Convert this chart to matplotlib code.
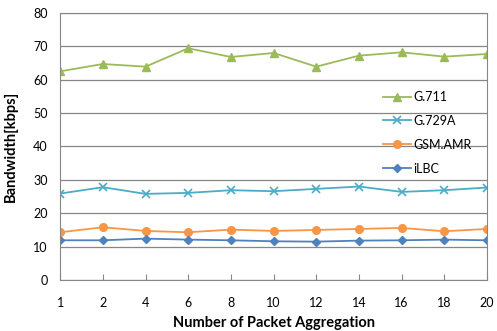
import numpy as np
import matplotlib.pyplot as plt

plt.rcParams['font.family'] = ['Lato', 'DejaVu Sans']

cats = ['1', '2', '4', '6', '8', '10', '12', '14', '16', '18', '20']
g711 = [62.5, 64.7, 63.9, 69.4, 66.8, 68.0, 63.9, 67.2, 68.2, 66.9, 67.7]
g729a = [25.9, 27.8, 25.8, 26.1, 26.9, 26.6, 27.3, 28.0, 26.4, 26.9, 27.7]
gsm_amr = [14.3, 15.8, 14.7, 14.3, 15.1, 14.7, 15.0, 15.3, 15.6, 14.6, 15.3]
ilbc = [11.9, 11.9, 12.4, 12.1, 11.9, 11.6, 11.5, 11.8, 11.9, 12.1, 11.9]

x = np.arange(len(cats))

fig = plt.figure(figsize=(4.97, 3.31), dpi=100)
ax = fig.add_axes([0.121, 0.154, 0.859, 0.807])

ax.plot(x, g711, '-^', color='#9BBB59', ms=5.5, lw=1.3, label='G.711')
ax.plot(x, g729a, '-x', color='#4BACC6', ms=5.5, mew=1.2, lw=1.3, label='G.729A')
ax.plot(x, gsm_amr, '-o', color='#F79646', ms=5.5, lw=1.3, label='GSM.AMR')
ax.plot(x, ilbc, '-D', color='#4F81BD', ms=3.8, lw=1.3, label='iLBC')

ax.set_xlim(0, len(cats) - 1)
ax.set_ylim(0, 80)
ax.set_yticks(range(0, 81, 10))
ax.set_xticks(x)
ax.set_xticklabels(cats)
ax.yaxis.grid(True, color='#868686', lw=0.9)
ax.set_axisbelow(True)
for s in ax.spines.values():
    s.set_color('#868686')
ax.tick_params(axis='y', length=0, pad=9, labelsize=9)
ax.tick_params(axis='x', length=4, direction='in', color='#868686', pad=12, labelsize=9)

ax.set_xlabel('Number of Packet Aggregation', fontsize=10.5, fontweight='bold', labelpad=5)
ax.set_ylabel('Bandwidth[kbps]', fontsize=10.5, fontweight='bold', labelpad=11)

ax.legend(loc='upper left', bbox_to_anchor=(0.73, 0.75), frameon=False, fontsize=9,
          handlelength=2.2, handletextpad=0.2, labelspacing=0.95)

plt.savefig('out.png', dpi=100)
